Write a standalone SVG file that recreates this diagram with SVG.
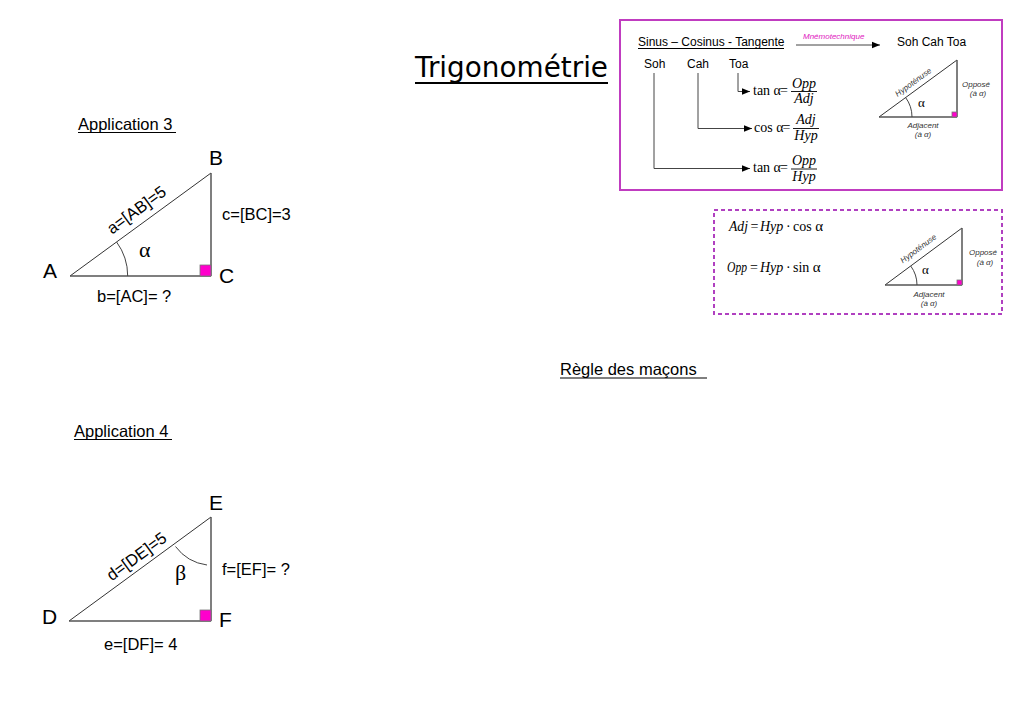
<svg xmlns="http://www.w3.org/2000/svg" width="1024" height="724" viewBox="0 0 1024 724">
<style>
  .sans { font-family: "Liberation Sans", Arial, sans-serif; fill: #000; }
  .lbl { font-family: "Liberation Sans", Arial, sans-serif; font-size: 16.5px; fill: #000; }
  .big { font-family: "Liberation Sans", Arial, sans-serif; font-size: 21px; fill: #000; }
  .greek { font-family: "Liberation Serif", "Times New Roman", serif; font-size: 22px; fill: #000; }
  .math { font-family: "Liberation Serif", "Times New Roman", serif; font-size: 14px; fill: #000; }
  .mi { font-family: "Liberation Serif", "Times New Roman", serif; font-style: italic; font-size: 14px; fill: #000; }
  .tiny { font-family: "Liberation Sans", Arial, sans-serif; font-style: italic; font-size: 8px; fill: #333; }
  .leg { stroke: #555; stroke-width: 1.5; fill: none; }
  .hyp { stroke: #333; stroke-width: 1; fill: none; }
  .arc { stroke: #444; stroke-width: 1; fill: none; }
  .sq { fill: #ff00cc; stroke: #777; stroke-width: 0.8; }
  .ul { stroke: #000; stroke-width: 1.2; }
  .conn { stroke: #444; stroke-width: 1; fill: none; }
  .bar { stroke: #000; stroke-width: 0.9; }
</style>
<defs>
  <marker id="ah" viewBox="0 0 10 10" refX="10" refY="5" markerWidth="8" markerHeight="8" markerUnits="userSpaceOnUse" orient="auto">
    <path d="M0,1 L10,5 L0,9 Z" fill="#000"/>
  </marker>
</defs>
<rect width="1024" height="724" fill="#fff"/>

<!-- Title -->
<g id="title">
  <text x="415" y="77" font-family="DejaVu Sans, Verdana, sans-serif" font-size="28" textLength="193" lengthAdjust="spacingAndGlyphs" fill="#000">Trigonométrie</text>
  <line x1="415" y1="83" x2="608" y2="83" stroke="#000" stroke-width="2"/>
</g>

<!-- Summary box -->
<g id="summary-box">
  <rect x="620" y="20" width="382" height="170" fill="none" stroke="#c03cc0" stroke-width="2"/>
  <text class="sans" x="638" y="46" font-size="12">Sinus – Cosinus - Tangente</text>
  <line class="ul" x1="638" y1="48.5" x2="784" y2="48.5" stroke-width="1"/>
  <text x="803" y="39" font-family="Liberation Sans, Arial, sans-serif" font-style="italic" font-size="8" fill="#e020c0">Mnémotechnique</text>
  <text class="sans" x="897" y="46" font-size="12">Soh Cah Toa</text>
  <text class="sans" x="644" y="68" font-size="12">Soh</text>
  <text class="sans" x="687" y="68" font-size="12">Cah</text>
  <text class="sans" x="729" y="68" font-size="12">Toa</text>

  <!-- formula 1 -->
  <text class="math" x="753" y="95" font-size="12.5">tan α</text>
  <text class="math" x="780" y="95" font-size="15">=</text>
  <text class="mi" x="804" y="88" text-anchor="middle" font-size="15">Opp</text>
  <line class="bar" x1="791" y1="91.5" x2="817" y2="91.5"/>
  <text class="mi" x="804" y="103" text-anchor="middle" font-size="15">Adj</text>
  <!-- formula 2 -->
  <text class="math" x="754" y="132" font-size="11.5">cos α</text>
  <text class="math" x="782.5" y="132" font-size="15">=</text>
  <text class="mi" x="806" y="124" text-anchor="middle" font-size="15">Adj</text>
  <line class="bar" x1="793" y1="128.5" x2="819" y2="128.5"/>
  <text class="mi" x="806" y="140" text-anchor="middle" font-size="15">Hyp</text>
  <!-- formula 3 -->
  <text class="math" x="753" y="172" font-size="12.5">tan α</text>
  <text class="math" x="780" y="172" font-size="15">=</text>
  <text class="mi" x="804" y="164.5" text-anchor="middle" font-size="15">Opp</text>
  <line class="bar" x1="791" y1="169" x2="817" y2="169"/>
  <text class="mi" x="804" y="181" text-anchor="middle" font-size="15">Hyp</text>

  <!-- small triangle -->
  <g id="mini-triangle-1">
    <line class="hyp" x1="879" y1="117" x2="957" y2="60" stroke-width="0.8"/>
    <line class="leg" x1="879" y1="117" x2="957" y2="117" stroke-width="1"/>
    <line class="leg" x1="957" y1="60" x2="957" y2="117" stroke-width="1"/>
    <rect class="sq" x="952" y="112" width="5" height="5" stroke-width="0.4"/>
    <path class="arc" d="M912,117 A33,33 0 0 0 905.6,97.5" stroke-width="0.8"/>
    <text x="918" y="107" font-family="Liberation Serif, serif" font-size="13" fill="#000">α</text>
    <text class="tiny" x="914.8" y="84.4" text-anchor="middle" transform="rotate(-36.2 914.8 84.4)">Hypoténuse</text>
    <text class="tiny" x="976" y="87" text-anchor="middle">Opposé</text>
    <text class="tiny" x="978" y="96" text-anchor="middle">(à α)</text>
    <text class="tiny" x="923" y="128" text-anchor="middle">Adjacent</text>
    <text class="tiny" x="923" y="137" text-anchor="middle">(à α)</text>
  </g>
</g>

<!-- Dashed box -->
<g id="formula-box">
  <rect x="714" y="210" width="288" height="104" fill="none" stroke="#b040c0" stroke-width="2" stroke-dasharray="4 3"/>
  <text class="mi" x="729" y="231" font-size="14.5" textLength="19" lengthAdjust="spacingAndGlyphs">Adj</text>
  <text class="math" x="750.5" y="231" font-size="14">=</text>
  <text class="mi" x="760" y="231" font-size="15">Hyp</text>
  <text class="math" x="786" y="231" font-size="12">·</text>
  <text class="math" x="793" y="231" font-size="13">cos <tspan font-size="15">α</tspan></text>
  <text class="mi" x="727" y="272" font-size="14.5" textLength="20" lengthAdjust="spacingAndGlyphs">Opp</text>
  <text class="math" x="750" y="272" font-size="14">=</text>
  <text class="mi" x="760" y="272" font-size="15">Hyp</text>
  <text class="math" x="786" y="272" font-size="12">·</text>
  <text class="math" x="793" y="272" font-size="13">sin <tspan font-size="15">α</tspan></text>
  <g id="mini-triangle-2">
    <line class="hyp" x1="885" y1="285" x2="962" y2="228" stroke-width="0.8"/>
    <line class="leg" x1="885" y1="285" x2="962" y2="285" stroke-width="1"/>
    <line class="leg" x1="962" y1="228" x2="962" y2="285" stroke-width="1"/>
    <rect class="sq" x="957" y="280" width="5" height="5" stroke-width="0.4"/>
    <path class="arc" d="M917,285 A32,32 0 0 0 910.8,266.1" stroke-width="0.8"/>
    <text x="922" y="274" font-family="Liberation Serif, serif" font-size="13" fill="#000">α</text>
    <text class="tiny" x="920" y="250.7" text-anchor="middle" transform="rotate(-36.5 920 250.7)">Hypoténuse</text>
    <text class="tiny" x="983" y="255" text-anchor="middle">Opposé</text>
    <text class="tiny" x="985" y="265" text-anchor="middle">(à α)</text>
    <text class="tiny" x="929" y="297" text-anchor="middle">Adjacent</text>
    <text class="tiny" x="929" y="306" text-anchor="middle">(à α)</text>
  </g>
</g>

<!-- Règle des maçons -->
<g id="regle">
  <text class="lbl" x="560" y="375">Règle des maçons </text>
  <line class="ul" x1="560" y1="378" x2="707" y2="378" stroke-width="1"/>
</g>

<!-- Application 3 -->
<g id="application-3">
  <text class="lbl" x="78" y="130">Application 3</text>
  <line class="ul" x1="78" y1="132.5" x2="176" y2="132.5" stroke-width="1"/>
  <line class="hyp" x1="70" y1="276" x2="211" y2="173"/>
  <line class="leg" x1="70" y1="276" x2="211" y2="276"/>
  <line class="leg" x1="211" y1="173" x2="211" y2="276"/>
  <rect class="sq" x="200" y="265" width="11" height="11"/>
  <path class="arc" d="M127.7,276 A57.7,57.7 0 0 0 116.6,242"/>
  <text class="greek" x="139" y="257">α</text>
  <text class="big" x="43" y="278">A</text>
  <text class="big" x="209" y="165">B</text>
  <text class="big" x="219" y="283">C</text>
  <text class="lbl" x="139.7" y="214.4" text-anchor="middle" transform="rotate(-36.1 139.7 214.4)">a=[AB]=5</text>
  <text class="lbl" x="222" y="220">c=[BC]=3</text>
  <text class="lbl" x="97" y="302">b=[AC]= ?</text>
</g>

<!-- Application 4 -->
<g id="application-4">
  <text class="lbl" x="74" y="437">Application 4</text>
  <line class="ul" x1="74" y1="439.5" x2="172" y2="439.5" stroke-width="1"/>
  <line class="hyp" x1="69" y1="621" x2="211" y2="517"/>
  <line class="leg" x1="69" y1="621" x2="211" y2="621"/>
  <line class="leg" x1="211" y1="517" x2="211" y2="621"/>
  <rect class="sq" x="200" y="610" width="11" height="11"/>
  <path class="arc" d="M175.5,546.5 A47,47 0 0 0 207,565"/>
  <text class="greek" x="175" y="580">β</text>
  <text class="big" x="42" y="624">D</text>
  <text class="big" x="209" y="510">E</text>
  <text class="big" x="219" y="627">F</text>
  <text class="lbl" x="139.9" y="560.9" text-anchor="middle" transform="rotate(-36.2 139.9 560.9)">d=[DE]=5</text>
  <text class="lbl" x="222" y="575">f=[EF]= ?</text>
  <text class="lbl" x="104" y="650">e=[DF]= 4</text>
</g>

<!-- Connectors -->
<g id="connectors">
  <line class="conn" x1="796" y1="45" x2="880" y2="45" stroke="#000" marker-end="url(#ah)"/>
  <polyline class="conn" points="738,73 738,91.5 750,91.5" marker-end="url(#ah)"/>
  <polyline class="conn" points="698,73 698,128.5 752,128.5" marker-end="url(#ah)"/>
  <polyline class="conn" points="654,73 654,168.5 750,168.5" marker-end="url(#ah)"/>
</g>
</svg>
